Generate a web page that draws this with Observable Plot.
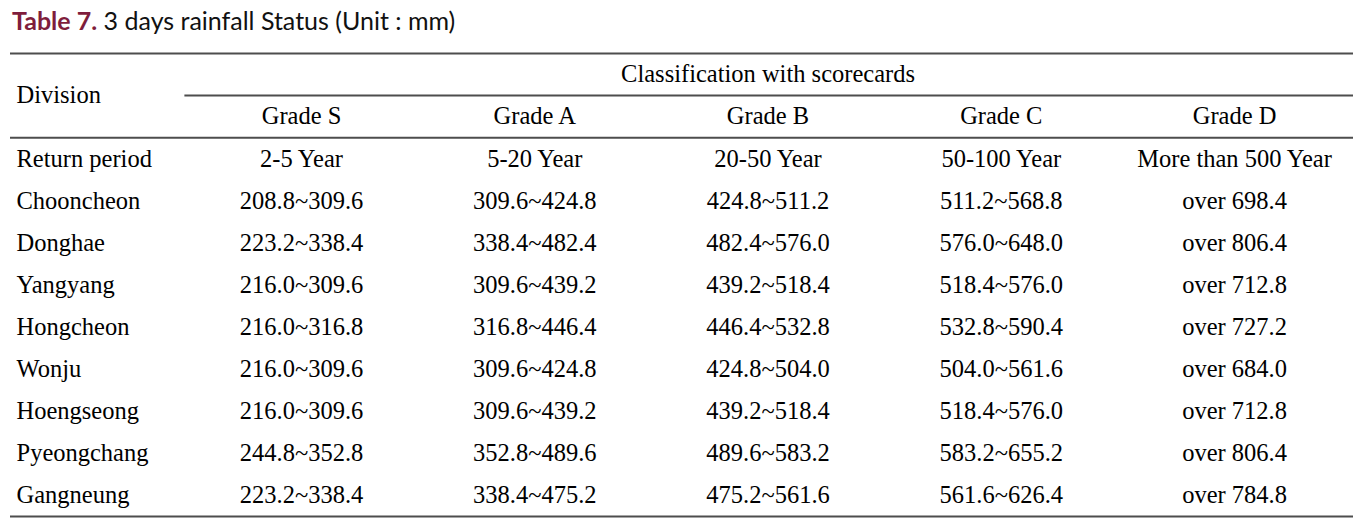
<!DOCTYPE html>
<html>
<head>
<meta charset="utf-8">
<script src="https://cdn.jsdelivr.net/npm/d3@7"></script>
<script src="https://cdn.jsdelivr.net/npm/@observablehq/plot@0.6"></script>
<style>
  html, body { margin: 0; padding: 0; background: #fff; color: #000; }
  #title { height: 40px; line-height: 40px; padding-left: 12px; font-family: Lato, "Noto Sans", sans-serif; font-size: 25px; color: #111; white-space: nowrap; }
  #title b { color: #7f1d3c; font-weight: 700; }
  svg { display: block; }
  #chart svg text { font-family: "Liberation Serif", "Times New Roman", serif !important; }
</style>
</head>
<body>
<div id="title"><b>Table 7.</b> 3 days rainfall Status (Unit : mm)</div>
<div id="chart"></div>
<script>
const headerTop = "Classification with scorecards";
const divisionLabel = "Division";
const returnLabel = "Return period";
const grades = ["Grade S", "Grade A", "Grade B", "Grade C", "Grade D"];
const returnPeriods = ["2-5 Year", "5-20 Year", "20-50 Year", "50-100 Year", "More than 500 Year"];
const cities = ["Chooncheon", "Donghae", "Yangyang", "Hongcheon", "Wonju", "Hoengseong", "Pyeongchang", "Gangneung"];
// Range boundaries: S lower, S/A, A/B, B/C, C upper
const bounds = [
  [208.8, 309.6, 424.8, 511.2, 568.8],
  [223.2, 338.4, 482.4, 576.0, 648.0],
  [216.0, 309.6, 439.2, 518.4, 576.0],
  [216.0, 316.8, 446.4, 532.8, 590.4],
  [216.0, 309.6, 424.8, 504.0, 561.6],
  [216.0, 309.6, 439.2, 518.4, 576.0],
  [244.8, 352.8, 489.6, 583.2, 655.2],
  [223.2, 338.4, 475.2, 561.6, 626.4]
];
const gradeDOver = [698.4, 806.4, 712.8, 727.2, 684.0, 712.8, 806.4, 784.8];

// Build table cells (row index, column index, label)
const cells = [];
grades.forEach((g, j) => cells.push({row: 1, col: j, label: g}));
returnPeriods.forEach((p, j) => cells.push({row: 2, col: j, label: p}));
cities.forEach((c, i) => {
  const b = bounds[i];
  for (let j = 0; j < 4; j++) {
    cells.push({row: 3 + i, col: j, label: `${b[j].toFixed(1)}~${b[j + 1].toFixed(1)}`});
  }
  cells.push({row: 3 + i, col: 4, label: `over ${gradeDOver[i].toFixed(1)}`});
});
const leftLabels = [
  {row: 0.5, label: divisionLabel},
  {row: 2, label: returnLabel},
  ...cities.map((c, i) => ({row: 3 + i, label: c}))
];
const nRows = 3 + cities.length;

const font = "Liberation Serif";
const lineColor = "#4d4d4d";
const textOpts = {fontSize: 24.5, fontFamily: font, fill: "#000"};

const chart = Plot.plot({
  width: 1372,
  height: 478,
  marginLeft: 10,
  marginRight: 19,
  marginTop: 13,
  marginBottom: 2,
  style: {fontFamily: font, background: "#fff", color: "#000"},
  x: {type: "linear", domain: [-1.2476, 4.510], axis: null},
  y: {type: "linear", domain: [-0.5, nRows - 0.5], reverse: true, axis: null},
  marks: [
    Plot.ruleY([-0.5, 1.5, nRows - 0.5], {stroke: lineColor, strokeWidth: 2}),
    Plot.ruleY([0.5], {x1: -0.5, x2: 4.510, stroke: lineColor, strokeWidth: 2}),
    Plot.text([headerTop], {x: 2, y: 0, text: d => d, ...textOpts}),
    Plot.text(cells, {x: "col", y: "row", text: "label", ...textOpts}),
    Plot.text(leftLabels, {y: "row", text: "label", frameAnchor: "left", textAnchor: "start", dx: 6, ...textOpts})
  ]
});
document.getElementById("chart").appendChild(chart);
</script>
</body>
</html>
